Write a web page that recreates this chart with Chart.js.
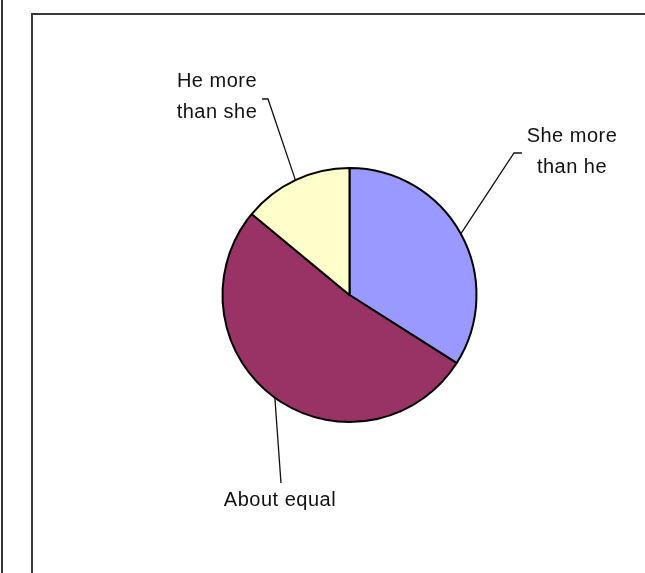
<!DOCTYPE html>
<html>
<head>
<meta charset="utf-8">
<script src="https://cdn.jsdelivr.net/npm/chart.js@4.4.1/dist/chart.umd.min.js"></script>
<style>
  body { margin: 0; background: #fff; }
  #wrap { position: relative; width: 645px; height: 573px; overflow: hidden; }
  .frame-left { position: absolute; left: 1px; top: 0; width: 2px; height: 573px; background: #333; }
  .frame-box { position: absolute; left: 31px; top: 13px; width: 700px; height: 700px;
               border-left: 2px solid #3a3a3a; border-top: 2px solid #3a3a3a; }
  canvas { position: absolute; left: 0; top: 0; }
</style>
</head>
<body>
<div id="wrap">
  <div class="frame-left"></div>
  <div class="frame-box"></div>
  <canvas id="myChart" width="645" height="573"></canvas>
</div>
<script>
// Chart data
const categories = ["She more than he", "About equal", "He more than she"];
const shares = [34, 52, 14];
const sliceColors = ["#9999ff", "#993366", "#ffffcc"];

// Label text lines for each slice
const labelLines = [["She more", "than he"], ["About equal"], ["He more", "than she"]];

// Where each label sits and how its leader line bends (text centre, elbow, tick end)
const labelLayout = [
  { x: 572, y: 136, elbow: [514, 153], tick: [522, 153] },
  { x: 280, y: 500, elbow: [281, 483], tick: null },
  { x: 217, y: 81, elbow: [268, 99], tick: [262, 99] }
];

const leaderLabels = {
  id: "leaderLabels",
  afterDatasetsDraw(chart) {
    const ctx = chart.ctx;
    const arcs = chart.getDatasetMeta(0).data;
    ctx.save();
    ctx.strokeStyle = "#111";
    ctx.lineWidth = 1.3;
    arcs.forEach((arc, i) => {
      const p = arc.getProps(["x", "y", "startAngle", "endAngle", "outerRadius"], true);
      const mid = (p.startAngle + p.endAngle) / 2;
      const ax = p.x + Math.cos(mid) * p.outerRadius;
      const ay = p.y + Math.sin(mid) * p.outerRadius;
      const lay = labelLayout[i];
      ctx.beginPath();
      ctx.moveTo(ax, ay);
      ctx.lineTo(lay.elbow[0], lay.elbow[1]);
      if (lay.tick) ctx.lineTo(lay.tick[0], lay.tick[1]);
      ctx.stroke();

      ctx.fillStyle = "#111";
      ctx.font = "20px 'Liberation Sans', Arial, sans-serif";
      ctx.letterSpacing = "0.5px";
      ctx.textAlign = "center";
      ctx.textBaseline = "middle";
      labelLines[i].forEach((line, j) => {
        ctx.fillText(line, lay.x, lay.y + j * 31);
      });
    });
    ctx.restore();
  }
};

const ctx = document.getElementById("myChart").getContext("2d");
new Chart(ctx, {
  type: "pie",
  data: {
    labels: categories,
    datasets: [{
      data: shares,
      backgroundColor: sliceColors,
      borderColor: "#000",
      borderWidth: 2
    }]
  },
  options: {
    responsive: false,
    animation: false,
    radius: 127,
    layout: { padding: { left: 54, right: 0, top: 17, bottom: 0 } },
    plugins: {
      legend: { display: false },
      tooltip: { enabled: false }
    }
  },
  plugins: [leaderLabels]
});
</script>
</body>
</html>
